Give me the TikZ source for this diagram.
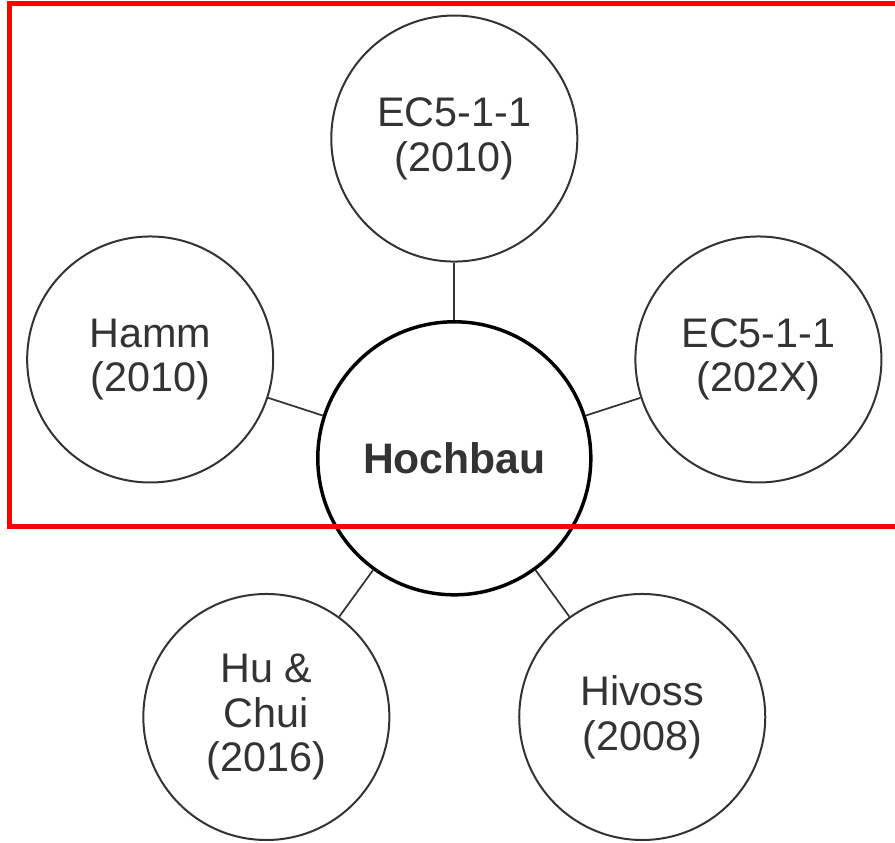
\documentclass[tikz,border=0pt]{standalone}
\usepackage{fontspec}
\setmainfont{Liberation Sans}
\usepackage{xcolor}
\definecolor{inkgray}{HTML}{333333}
\definecolor{markred}{HTML}{FF0000}

\begin{document}
\begin{tikzpicture}[
        leaf/.style={circle, draw=inkgray, line width=1.5pt, minimum size=184.5pt,
            inner sep=0pt, align=center, text=inkgray, font=\fontsize{31}{33.5}\selectfont},
        hub/.style={circle, draw=black, line width=2.6pt, minimum size=204.75pt,
            inner sep=0pt, text=inkgray, font=\fontsize{32}{35}\selectfont\bfseries},
        spoke/.style={draw=inkgray, line width=1.3pt},
        redframe/.style={draw=markred, line width=3.75pt}
    ]
        \useasboundingbox (-340.7pt,-287.8pt) rectangle (330.5pt,343.7pt);
        \node[hub] (hochbau) at (0,0) {Hochbau};
        \node[leaf] (ec2010) at (90:239.8pt) {EC5-1-1\\(2010)};
        \node[leaf] (hamm) at (162:239.8pt) {Hamm\\(2010)};
        \node[leaf] (huchui) at (234:239.8pt) {Hu \&\\Chui\\(2016)};
        \node[leaf] (hivoss) at (306:239.8pt) {Hivoss\\(2008)};
        \node[leaf] (ec202x) at (18:239.8pt) {EC5-1-1\\(202X)};
        \foreach \n in {ec2010, hamm, huchui, hivoss, ec202x}
            \draw[spoke] (hochbau) -- (\n);
        \draw[redframe] (-333.8pt,341.1pt) rectangle (345pt,-51.3pt);
    \end{tikzpicture}
\end{document}
